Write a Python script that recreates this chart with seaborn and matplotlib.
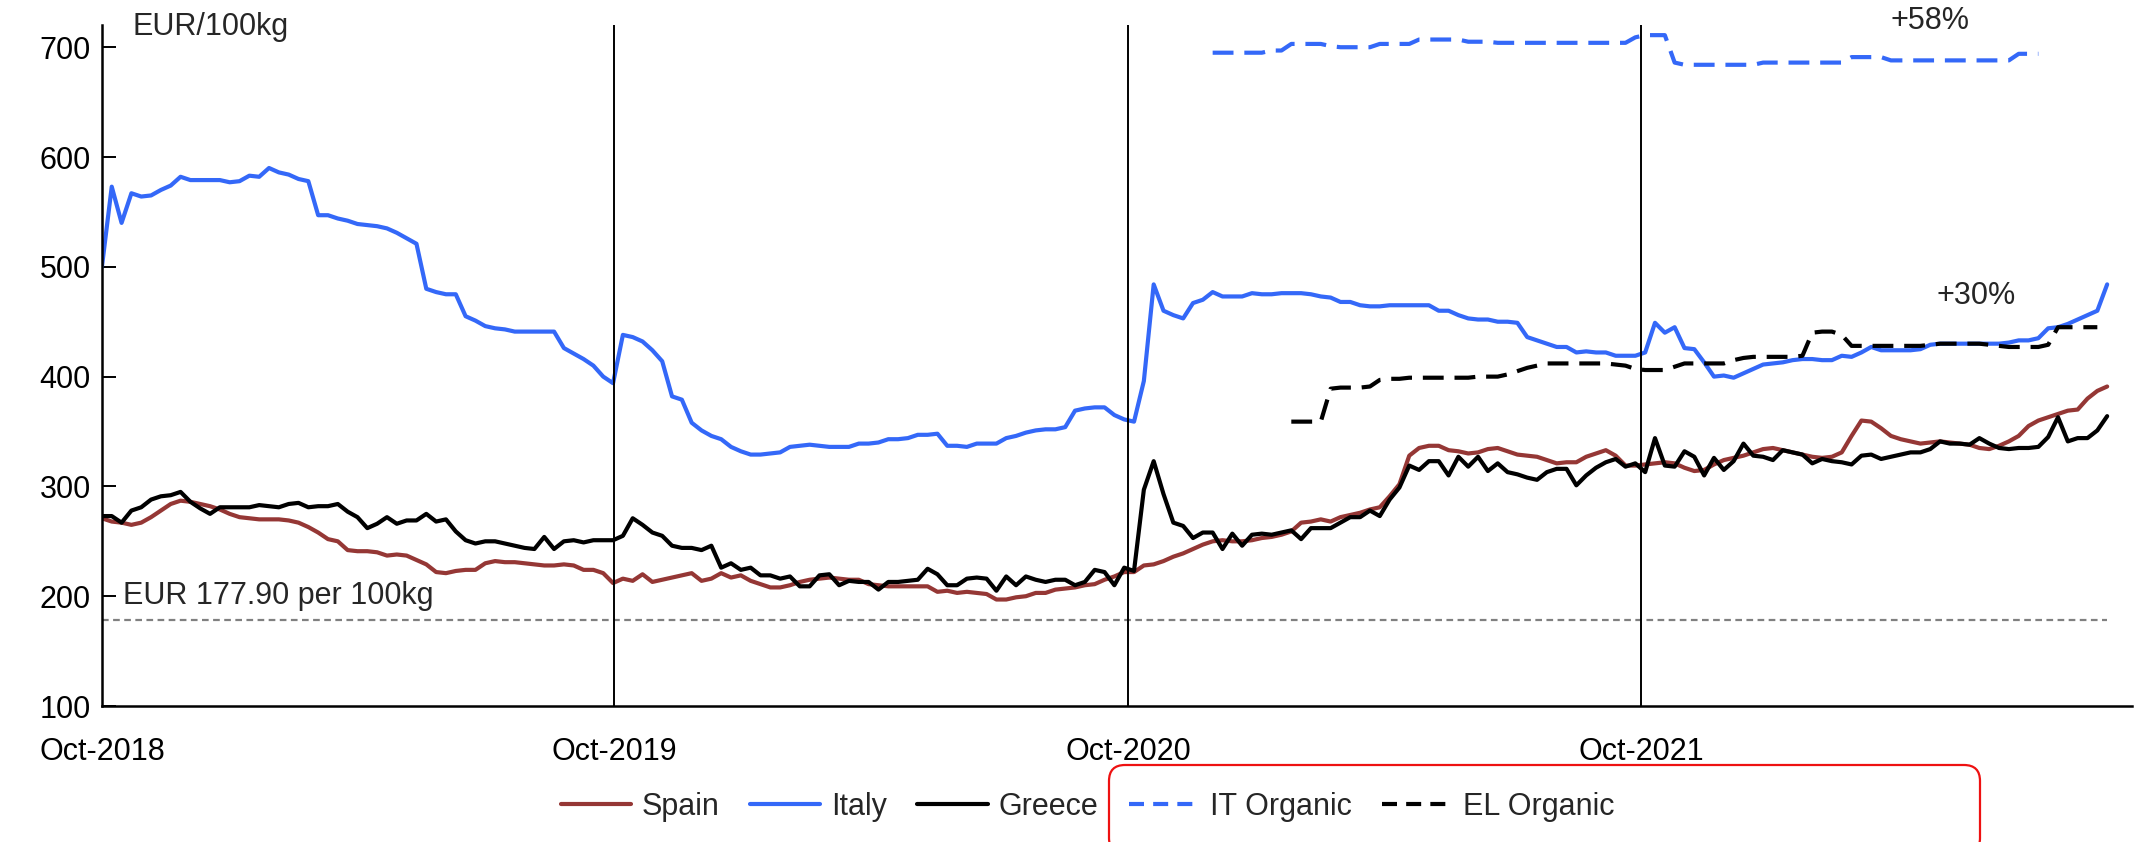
import pandas as pd
import numpy as np
import matplotlib
matplotlib.use('Agg')
import matplotlib.pyplot as plt
from matplotlib.patches import FancyBboxPatch
from matplotlib.transforms import IdentityTransform
from matplotlib.lines import Line2D
import seaborn as sns

# weekly prices, EUR/100kg, first week of Oct-2018 onwards
start = '2018-10-01'

spain = [271, 268, 267, 265, 267, 272, 278, 284, 287, 286,
         284, 282, 279, 275, 272, 271, 270, 270, 270, 269,
         267, 263, 258, 252, 250, 242, 241, 241, 240, 237,
         238, 237, 233, 229, 222, 221, 223, 224, 224, 230,
         232, 231, 231, 230, 229, 228, 228, 229, 228, 224,
         224, 221, 212,
         216, 214, 220, 213, 215, 217, 219, 221, 214, 216,
         221, 217, 219, 214, 211, 208, 208, 210, 213, 215,
         216, 217, 216, 215, 215, 211, 210, 209, 209, 209,
         209, 209, 204, 205, 203, 204, 203, 202, 197, 197,
         199, 200, 203, 203, 206, 207, 208, 210, 211, 215,
         218, 222,
         222, 228, 229, 232, 236, 239, 243, 247, 250, 251,
         250, 250, 251, 253, 254, 256, 259, 267, 268, 270,
         268, 272, 274, 276, 279, 281, 291, 302, 328, 335,
         337, 337, 333, 332, 330, 331, 334, 335, 332, 329,
         328, 327, 324, 321, 322, 322, 327, 330, 333, 328,
         319, 319,
         320, 321, 322, 321, 317, 314, 315, 320, 324, 326,
         328, 331, 334, 335, 333, 331, 329, 327, 326, 327,
         331, 346, 360, 359, 353, 346, 343, 341, 339, 340,
         341, 340, 339, 338, 335, 334, 337, 341, 346, 355,
         360, 363, 366, 369, 370, 380, 387, 391]

italy = [500, 573, 540, 567, 564, 565, 570, 574, 582, 579,
         579, 579, 579, 577, 578, 583, 582, 590, 586, 584,
         580, 578, 547, 547, 544, 542, 539, 538, 537, 535,
         531, 526, 521, 480, 477, 475, 475, 455, 451, 446,
         444, 443, 441, 441, 441, 441, 441, 426, 421, 416,
         410, 400, 394,
         438, 436, 432, 424, 414, 382, 379, 358, 351, 346,
         343, 336, 332, 329, 329, 330, 331, 336, 337, 338,
         337, 336, 336, 336, 339, 339, 340, 343, 343, 344,
         347, 347, 348, 337, 337, 336, 339, 339, 339, 344,
         346, 349, 351, 352, 352, 354, 369, 371, 372, 372,
         365, 361,
         359, 396, 484, 460, 456, 453, 467, 470, 477, 473,
         473, 473, 476, 475, 475, 476, 476, 476, 475, 473,
         472, 468, 468, 465, 464, 464, 465, 465, 465, 465,
         465, 460, 460, 456, 453, 452, 452, 450, 450, 449,
         436, 433, 430, 427, 427, 422, 423, 422, 422, 419,
         419, 419,
         422, 449, 440, 445, 426, 425, 413, 400, 401, 399,
         403, 407, 411, 412, 413, 415, 416, 416, 415, 415,
         419, 418, 422, 427, 424, 424, 424, 424, 425, 429,
         430, 430, 430, 430, 430, 430, 430, 431, 433, 433,
         435, 444, 445, 448, 452, 456, 460, 484]

greece = [273, 273, 267, 278, 281, 288, 291, 292, 295, 286,
          280, 275, 281, 281, 281, 281, 283, 282, 281, 284,
          285, 281, 282, 282, 284, 277, 272, 262, 266, 272,
          266, 269, 269, 275, 268, 270, 259, 251, 248, 250,
          250, 248, 246, 244, 243, 254, 243, 250, 251, 249,
          251, 251, 251,
          255, 271, 265, 258, 255, 246, 244, 244, 242, 246,
          226, 230, 224, 226, 219, 219, 216, 218, 209, 209,
          219, 220, 210, 214, 213, 213, 206, 213, 213, 214,
          215, 225, 220, 210, 210, 216, 217, 216, 205, 218,
          210, 218, 215, 213, 215, 215, 210, 213, 224, 222,
          210, 226,
          223, 297, 323, 293, 267, 264, 253, 258, 258, 243,
          257, 246, 256, 257, 256, 258, 260, 252, 262, 262,
          262, 267, 272, 272, 278, 273, 288, 299, 319, 315,
          323, 323, 310, 327, 318, 327, 314, 321, 313, 311,
          308, 306, 313, 316, 316, 301, 310, 317, 322, 325,
          318, 321,
          313, 344, 319, 318, 332, 327, 310, 326, 315, 323,
          339, 328, 327, 324, 333, 331, 329, 321, 325, 323,
          322, 320, 328, 329, 325, 327, 329, 331, 331, 334,
          341, 339, 339, 338, 344, 339, 335, 334, 335, 335,
          336, 345, 363, 341, 344, 344, 351, 364]

# organic series start later (week index into the weekly axis)
it_org_start = 113
it_organic = [695, 695, 695, 695, 695, 695, 697, 697, 703, 703,
              703, 703, 701, 700, 700, 700, 700, 703, 703, 703,
              703, 707, 707, 707, 707, 707, 705, 705, 705, 704,
              704, 704, 704, 704, 704, 704, 704, 704, 704, 704,
              704, 704, 704, 709,
              711, 711, 711, 686, 684, 684, 684, 684, 684, 684,
              684, 684, 686, 686, 686, 686, 686, 686, 686, 686,
              686, 691, 691, 691, 691, 688, 688, 688, 688, 688,
              688, 688, 688, 688, 688, 688, 688, 688, 694, 694,
              694]

el_org_start = 121
el_organic = [359, 359, 359, 359, 389, 390, 390, 390, 391, 397,
              398, 398, 399, 399, 399, 399, 399, 399, 399, 400,
              400, 400, 402, 405, 408, 410, 412, 412, 412, 412,
              412, 412, 412, 411, 410, 407, 406, 406, 406, 409,
              412, 412, 412, 412, 412, 415, 417, 418, 418, 418,
              418, 418, 419, 440, 441, 441, 438, 428, 428, 428,
              428, 428, 428, 428, 428, 429, 430, 430, 430, 430,
              430, 429, 428, 427, 427, 427, 427, 429, 445, 445,
              445, 445, 445]

base_price = 177.90
year_marks = ['2019-10-01', '2020-10-01', '2021-10-01']
tick_dates = ['2018-10-01', '2019-10-01', '2020-10-01', '2021-10-01']
tick_labels = ['Oct-2018', 'Oct-2019', 'Oct-2020', 'Oct-2021']

#%%
dates = pd.date_range(start, periods=len(spain), freq='7D')
df = pd.DataFrame({'date': dates, 'Spain': spain, 'Italy': italy, 'Greece': greece})
df_it = pd.DataFrame({'date': dates[it_org_start:it_org_start + len(it_organic)], 'val': it_organic})
df_el = pd.DataFrame({'date': dates[el_org_start:el_org_start + len(el_organic)], 'val': el_organic})

sns.set_theme(style='white')
plt.rcParams['font.family'] = ['Liberation Sans', 'DejaVu Sans']
FS = 22
LW = 3.0

blue = '#3468F8'
red = '#953735'
dash = (0, (5, 2.6))

fig = plt.figure(figsize=(21.41, 8.42), dpi=100)
ax = fig.add_axes([0.0476, 0.1615, 0.9484, 0.8085])

sns.lineplot(data=df, x='date', y='Spain', ax=ax, color=red, lw=LW, label='Spain')
sns.lineplot(data=df, x='date', y='Italy', ax=ax, color=blue, lw=LW, label='Italy')
sns.lineplot(data=df, x='date', y='Greece', ax=ax, color='black', lw=LW, label='Greece')
sns.lineplot(data=df_it, x='date', y='val', ax=ax, color=blue, lw=LW,
             linestyle=dash, label='IT Organic')
sns.lineplot(data=df_el, x='date', y='val', ax=ax, color='black', lw=LW,
             linestyle=dash, label='EL Organic')

ax.hlines(y=base_price, xmin=dates[0], xmax=dates[-1], colors='#808080',
          linestyles=(0, (3, 2)), lw=1.6)
for d in year_marks:
    ax.axvline(pd.Timestamp(d), color='black', lw=1.4)

ax.set_xlim(pd.Timestamp('2018-10-01'), pd.Timestamp('2022-09-16'))
ax.set_ylim(100, 720)
ax.set_yticks(range(100, 701, 100))
ax.set_xticks([pd.Timestamp(d) for d in tick_dates])
ax.set_xticklabels(tick_labels)
ax.set_xlabel('')
ax.set_ylabel('')
ax.tick_params(axis='y', direction='in', length=10, width=1.4, pad=8, labelsize=FS, colors='black')
ax.tick_params(axis='x', length=0, pad=22, labelsize=FS, colors='black')
ax.tick_params(axis='y', left=True)
for s in ['top', 'right']:
    ax.spines[s].set_visible(False)
for s in ['left', 'bottom']:
    ax.spines[s].set_color('black')
    ax.spines[s].set_linewidth(1.8)

ax.text(0.0153, 0.997, 'EUR/100kg', transform=ax.transAxes, fontsize=FS, va='center', ha='left')
ax.text(0.0103, 200, 'EUR 177.90 per 100kg', transform=ax.get_yaxis_transform(),
        fontsize=FS, va='center', ha='left')
ax.text(pd.Timestamp('2022-04-25'), 724, '+58%', fontsize=FS, ha='center', va='center', clip_on=False)
ax.text(pd.Timestamp('2022-05-28'), 473, '+30%', fontsize=FS, ha='center', va='center')

# legend: shorter dashes on the organic keys so three dashes show
handles, labels = ax.get_legend_handles_labels()
ax.get_legend().remove()
leg_handles = []
for h in handles:
    ls = h.get_linestyle()
    leg_handles.append(Line2D([], [], color=h.get_color(), lw=LW,
                              linestyle=(0, (3.6, 2.2)) if ls != '-' else '-'))
fig.legend(leg_handles, labels, loc='center', bbox_to_anchor=(0.508, 0.042), ncol=5,
           frameon=False, fontsize=FS, handlelength=2.3, handletextpad=0.35,
           columnspacing=1.0)

# red highlight round the organic entries
box = FancyBboxPatch((1109, -12), 871, 89, boxstyle='round,pad=0,rounding_size=16',
                     transform=IdentityTransform(), fill=False, edgecolor='#EE1111',
                     lw=1.6, clip_on=False)
fig.add_artist(box)

fig.savefig('out.png', dpi=100)
